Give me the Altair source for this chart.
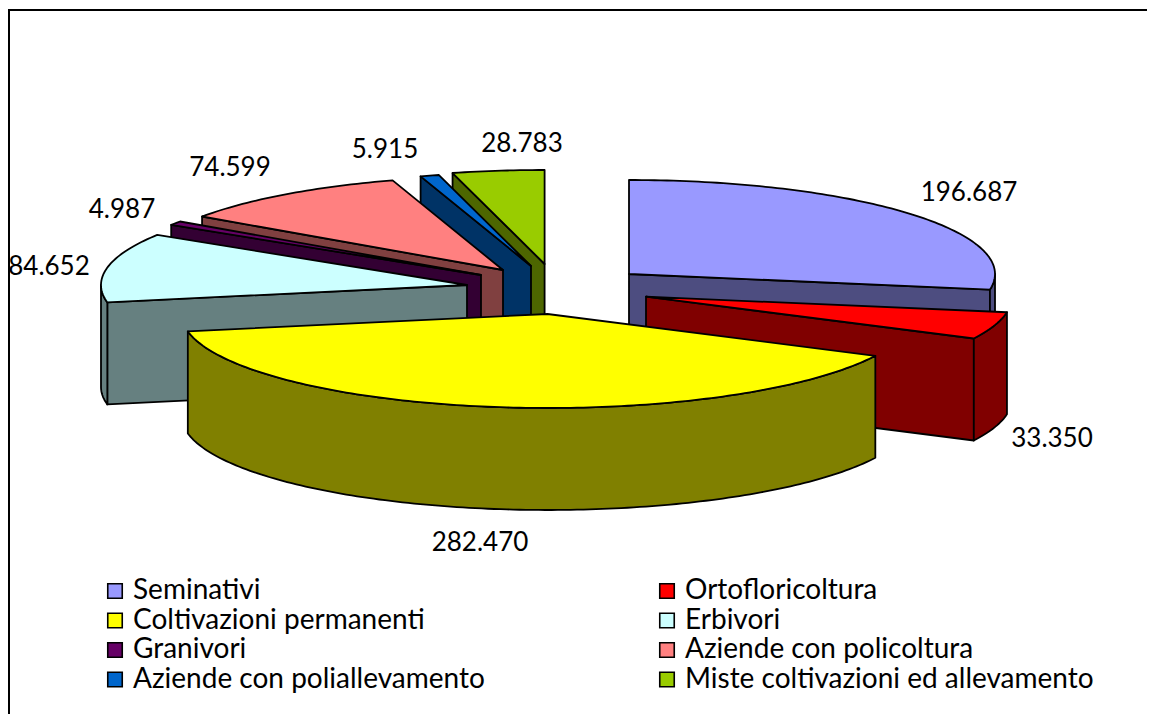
import math
import altair as alt

names = ["Seminativi", "Ortofloricoltura", "Coltivazioni permanenti", "Erbivori",
         "Granivori", "Aziende con policoltura", "Aziende con poliallevamento",
         "Miste coltivazioni ed allevamento"]
values = [196687, 33350, 282470, 84652, 4987, 74599, 5915, 28783]
top_colors = ["#9999ff", "#ff0000", "#ffff00", "#ccffff", "#660066", "#ff8080", "#0066cc", "#99cc00"]
side_colors = ["#4d4d80", "#800000", "#808000", "#668080", "#330033", "#804040", "#003366", "#4d6600"]

# layout of the exploded pie, in page pixels
apex_x = [629, 646, 547.5, 467, 481, 503, 531, 544.6]
apex_y = [274, 296.7, 314, 285, 275, 270, 266, 264]
RX, RY, DEPTH = 366, 94, 102
draw_order = [0, 7, 6, 5, 4, 3, 1, 2]
label_x = [969, 1052, 480, 49, 122, 230, 385, 522]
label_y = [193, 439, 543, 267, 210, 168, 150, 144]
OX, OY = 8, 8
W, H = 1139, 706


def rim_pt(i, deg, drop=0.0):
    r = math.radians(deg)
    return [apex_x[i] - OX + RX * math.sin(r), apex_y[i] - OY - RY * math.cos(r) + drop]


def feature(name, ring):
    ring = ring + [ring[0]]
    return {"type": "Feature", "properties": {"name": name},
            "geometry": {"type": "Polygon", "coordinates": [ring]}}


def arc(i, a, b, drop=0.0):
    n = max(2, int(abs(b - a)) + 1)
    return [rim_pt(i, a + (b - a) * k / n, drop) for k in range(n + 1)]


total = sum(values)
starts, c = [], 0
for v in values:
    starts.append(c / total * 360)
    c += v
ends = starts[1:] + [360.0]

features = []
for i in draw_order:
    a, b = starts[i], ends[i]
    side = names[i] + " (lato)"
    ap = [apex_x[i] - OX, apex_y[i] - OY]
    ap2 = [ap[0], ap[1] + DEPTH]
    if 0 < b < 180:
        features.append(feature(side, [ap, rim_pt(i, b), rim_pt(i, b, DEPTH), ap2]))
    if 180 < a < 360:
        features.append(feature(side, [ap, rim_pt(i, a), rim_pt(i, a, DEPTH), ap2]))
    lo, hi = max(a, 90), min(b, 270)
    if lo < hi:
        features.append(feature(side, arc(i, lo, hi) + arc(i, hi, lo, DEPTH)))
    features.append(feature(names[i], [ap] + arc(i, a, b)))

domain = names + [n + " (lato)" for n in names]
color_range = top_colors + side_colors

proj = dict(type="identity", scale=1, translate=[0, 0])

pie = alt.Chart(alt.Data(values=features)).mark_geoshape(
    stroke="black", strokeWidth=1.8, strokeJoin="round"
).encode(
    fill=alt.Fill(
        "properties.name:N",
        scale=alt.Scale(domain=domain, range=color_range),
        legend=alt.Legend(
            values=names, title=None, orient="none", legendX=93, legendY=569,
            direction="horizontal", columns=2, columnPadding=168, rowPadding=1.5, padding=0,
            symbolType="square", symbolSize=210, symbolStrokeColor="black",
            symbolStrokeWidth=1.6, symbolOffset=0, labelOffset=4,
            labelFont="Lato", labelFontSize=28, labelColor="black", labelLimit=700,
        ),
    )
).project(**proj)

frame_data = alt.Data(values=[{
    "type": "Feature", "properties": {},
    "geometry": {"type": "LineString",
                 "coordinates": [[1, H], [1, 2], [W, 2]]},
}])
frame = alt.Chart(frame_data).mark_geoshape(
    filled=False, stroke="black", strokeWidth=2
).project(**proj)

label_rows = [
    {"label": f"{v:,}".replace(",", "."), "x": x - OX, "y": y - OY}
    for v, x, y in zip(values, label_x, label_y)
]
labels = alt.Chart(alt.Data(values=label_rows)).mark_text(
    font="Lato", fontSize=26, color="black", baseline="middle", align="center"
).encode(
    x=alt.X("x:Q", scale=alt.Scale(domain=[0, W], nice=False, zero=False), axis=None),
    y=alt.Y("y:Q", scale=alt.Scale(domain=[H, 0], nice=False, zero=False), axis=None),
    text="label:N",
)

chart = alt.layer(frame, pie, labels).properties(
    width=W, height=H, padding=0, autosize=alt.AutoSizeParams(type="none"), background="white"
).configure_view(stroke=None)

chart.save("out.html", embed_options={"renderer": "svg", "actions": False})
